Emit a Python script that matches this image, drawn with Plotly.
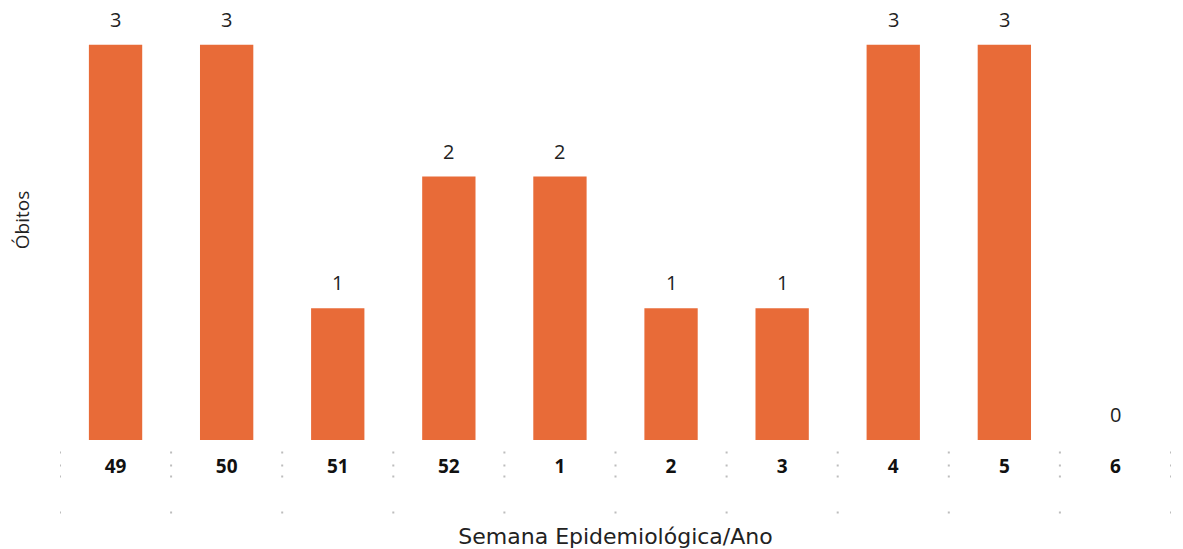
import plotly.graph_objects as go

semanas = ["49", "50", "51", "52", "1", "2", "3", "4", "5", "6"]
obitos = [3, 3, 1, 2, 2, 1, 1, 3, 3, 0]

BAR_COLOR = "#E86B38"

fig = go.Figure()
fig.add_trace(go.Bar(
    x=list(range(len(semanas))),
    y=obitos,
    marker=dict(color=BAR_COLOR, line=dict(width=0)),
    width=0.48,
    customdata=semanas,
    hovertemplate="Semana %{customdata}: %{y}<extra></extra>",
))

annotations = []
for i, v in enumerate(obitos):
    annotations.append(dict(
        x=i, y=v, xref="x", yref="y", text=str(v), showarrow=False,
        yanchor="bottom", yshift=10,
        font=dict(family="Open Sans", size=20, color="#222222"),
    ))

shapes = []
for i in range(len(semanas) + 1):
    shapes.append(dict(
        type="line", xref="x", yref="paper",
        x0=i - 0.5, x1=i - 0.5, y0=-0.026, y1=-0.17,
        line=dict(color="#BDBDBD", width=2, dash="2px,11px,2px,9px,2px,34px,2px,200px"),
    ))

fig.update_layout(
    width=1183, height=549,
    margin=dict(l=60, r=12, t=0, b=109),
    paper_bgcolor="white", plot_bgcolor="white",
    showlegend=False,
    annotations=annotations,
    shapes=shapes,
    xaxis=dict(
        range=[-0.5, len(semanas) - 0.5],
        tickmode="array",
        tickvals=list(range(len(semanas))),
        ticktext=semanas,
        automargin=False,
        showgrid=False, zeroline=False, showline=False,
        ticks="outside", ticklen=9, tickcolor="rgba(0,0,0,0)",
        tickfont=dict(family="Open Sans", size=19, color="#111111", weight="bold"),
        title=dict(text="Semana Epidemiológica/Ano", standoff=51,
                   font=dict(family="DejaVu Sans", size=22, color="#222222")),
    ),
    yaxis=dict(
        range=[0, 3.34],
        automargin=False,
        showgrid=False, zeroline=False, showline=False, showticklabels=False,
        title=dict(text="Óbitos", standoff=24,
                   font=dict(family="Open Sans", size=19, color="#222222")),
    ),
)

fig.write_html(
    "out.html",
    config={"displayModeBar": False},
    post_script="document.body.style.margin='0';document.body.style.overflow='hidden';",
)
